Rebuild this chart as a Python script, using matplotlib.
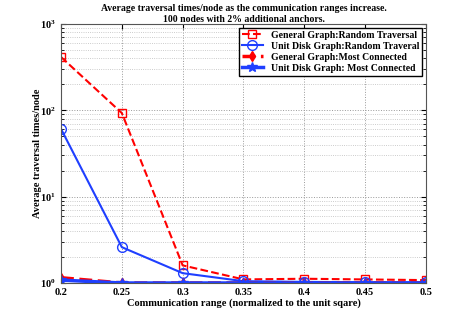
import numpy as np
import matplotlib.pyplot as plt

plt.rcParams['font.family'] = 'Liberation Serif'
plt.rcParams['font.weight'] = 'bold'
plt.rcParams['axes.titleweight'] = 'bold'
plt.rcParams['axes.labelweight'] = 'bold'
plt.rcParams['font.size'] = 7.5

# Dados
alcance = [0.2, 0.25, 0.3, 0.35, 0.4, 0.45, 0.5]
geral_aleatorio = [415, 93, 1.6, 1.1, 1.12, 1.1, 1.08]
disco_aleatorio = [61, 2.6, 1.3, 1.05, 1.03, 1.02, 1.02]
geral_conectado = [1.15, 1.0, 1.0, 1.0, 1.0, 1.0, 1.0]
disco_conectado = [1.08, 1.0, 1.0, 1.0, 1.0, 1.0, 1.0]

fig = plt.figure(figsize=(4.71, 3.19), dpi=100)
ax = fig.add_axes([61/471, 1-283/319, 365/471, 259/319])

ax.semilogy(alcance, geral_aleatorio, 'r--s', mfc='none', ms=6, lw=1.5,
            label='General Graph:Random Traversal')
ax.semilogy(alcance, disco_aleatorio, 'o-', color='#1f3fff', mfc='none', ms=7, lw=1.5,
            label='Unit Disk Graph:Random Traveral')
ax.semilogy(alcance, geral_conectado, 'r--d', ms=5, lw=2.5,
            label='General Graph:Most Connected')
ax.semilogy(alcance, disco_conectado, '-*', color='#1f3fff', ms=7, lw=2.5,
            label='Unit Disk Graph: Most Connected')

ax.set_xlim(0.2, 0.5)
ax.set_ylim(1, 1000)
ax.set_xticks(alcance)
ax.set_xticklabels(['0.2', '0.25', '0.3', '0.35', '0.4', '0.45', '0.5'])
ax.grid(which='major', axis='both', linestyle=':', color='#999999', lw=0.7)
ax.grid(which='minor', axis='y', linestyle=':', color='#bbbbbb', lw=0.6)
ax.tick_params(which='both', direction='in', top=True, right=True)
for s in ax.spines.values():
    s.set_color('#555555')

ax.set_xlabel('Communication range (normalized to the unit sqare)', labelpad=1)
ax.set_ylabel('Average traversal times/node', labelpad=-1)
ax.set_title('Average traversal times/node as the communication ranges increase.\n'
             '100 nodes with 2% additional anchors.', fontsize=7, pad=1.5, linespacing=1.3)

leg = ax.legend(loc='upper right', fancybox=False, edgecolor='black', fontsize=7,
                borderpad=0.3, labelspacing=0.2, handlelength=2.2, framealpha=1,
                borderaxespad=0.4)
leg.get_frame().set_linewidth(1.0)

fig.savefig('out.png', dpi=100)
